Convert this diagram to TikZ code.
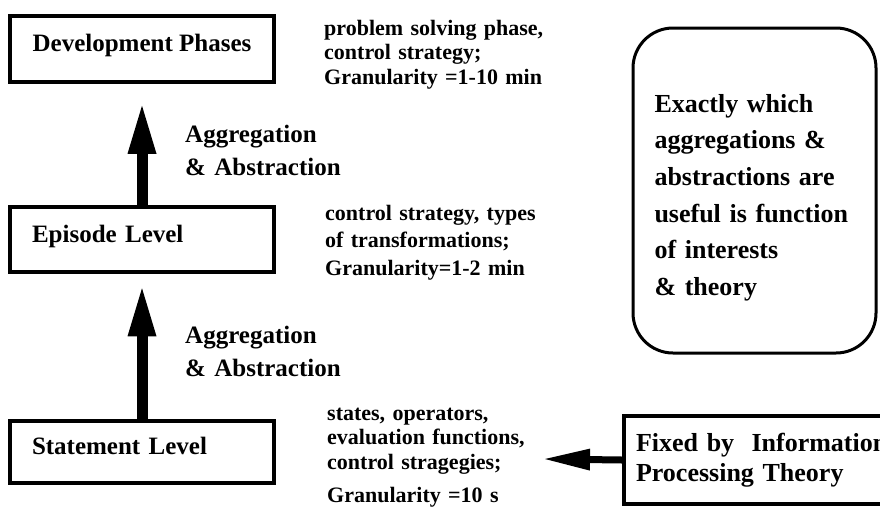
\documentclass[tikz,border=0pt]{standalone}
\usepackage{fontspec}
\setmainfont{Liberation Serif}
\usetikzlibrary{arrows.meta,calc}
\begin{document}
\begin{tikzpicture}[x=1pt,y=-1pt,
  lvlbox/.style={draw,line width=3.5pt,minimum width=264pt,inner sep=0pt,
    font=\fontsize{25}{30}\selectfont\bfseries,text height=17.5pt,text depth=12.5pt},
  leftlbl/.style={text width=220pt,align=left},
  side/.style={anchor=base west,inner sep=0pt,text width=260pt,align=left,
    font=\fontsize{22}{24.5}\selectfont\bfseries},
  agg/.style={anchor=base west,inner sep=0pt,text width=200pt,align=left,
    font=\fontsize{25}{33}\selectfont\bfseries},
  bigarr/.style={line width=11pt,-{Triangle[width=29pt,length=48pt,line width=0pt]}},
  sidearr/.style={line width=7pt,-{Triangle[width=22pt,length=45pt,line width=0pt]}},
  notebox/.style={draw,line width=3pt,rounded corners=40pt,minimum width=243pt,
    minimum height=325pt,inner sep=0pt,text width=200pt,align=left,text height=32pt,
    font=\fontsize{26}{36.6}\selectfont\bfseries},
  fixbox/.style={draw,line width=3.5pt,minimum height=88pt,inner xsep=12pt,inner ysep=0pt,
    text width=264pt,align=left,font=\fontsize{26}{30}\selectfont\bfseries}
]
\useasboundingbox (0,0) rectangle (880,507);

% level boxes
\node[lvlbox,minimum height=66pt] (dev) at (142,49) {Development Phases};
\node[lvlbox,leftlbl,minimum height=65pt] (ep) at (142,239.5) {Episode Level};
\node[lvlbox,leftlbl,minimum height=62pt] (st) at (142,452) {Statement Level};

% side descriptions
\node[side] (t1) at (324,35) {problem solving phase,\\control strategy;\\Granularity =1-10 min};
\node[side,font=\fontsize{22}{27.5}\selectfont\bfseries] (t2) at (325,220) {control strategy, types\\of transformations;\\Granularity=1-2 min};
\node[side] (t3) at (327,420) {states, operators,\\evaluation functions,\\control stragegies;\\[8.5pt]Granularity =10 s};

% aggregation labels
\node[agg] (ag1) at (185,142) {Aggregation\\\& Abstraction};
\node[agg] (ag2) at (185,343) {Aggregation\\\& Abstraction};

% upward arrows
\draw[bigarr] (ep.north) -- ($(dev.south)+(0,22)$);
\draw[bigarr] (st.north) -- ($(ep.north)+(0,83)$);

% note box
\node[notebox] (note) at (754.5,190.5) {Exactly which\\aggregations \&\\abstractions are\\useful is function\\of interests\\\& theory};

% fixed box and arrow
\node[fixbox] (fixed) at (768,460) {Fixed by\ \ Information\\Processing Theory};
\coordinate (tipL) at (545,459);
\draw[sidearr] (fixed.west) -- (tipL);
\end{tikzpicture}
\end{document}
